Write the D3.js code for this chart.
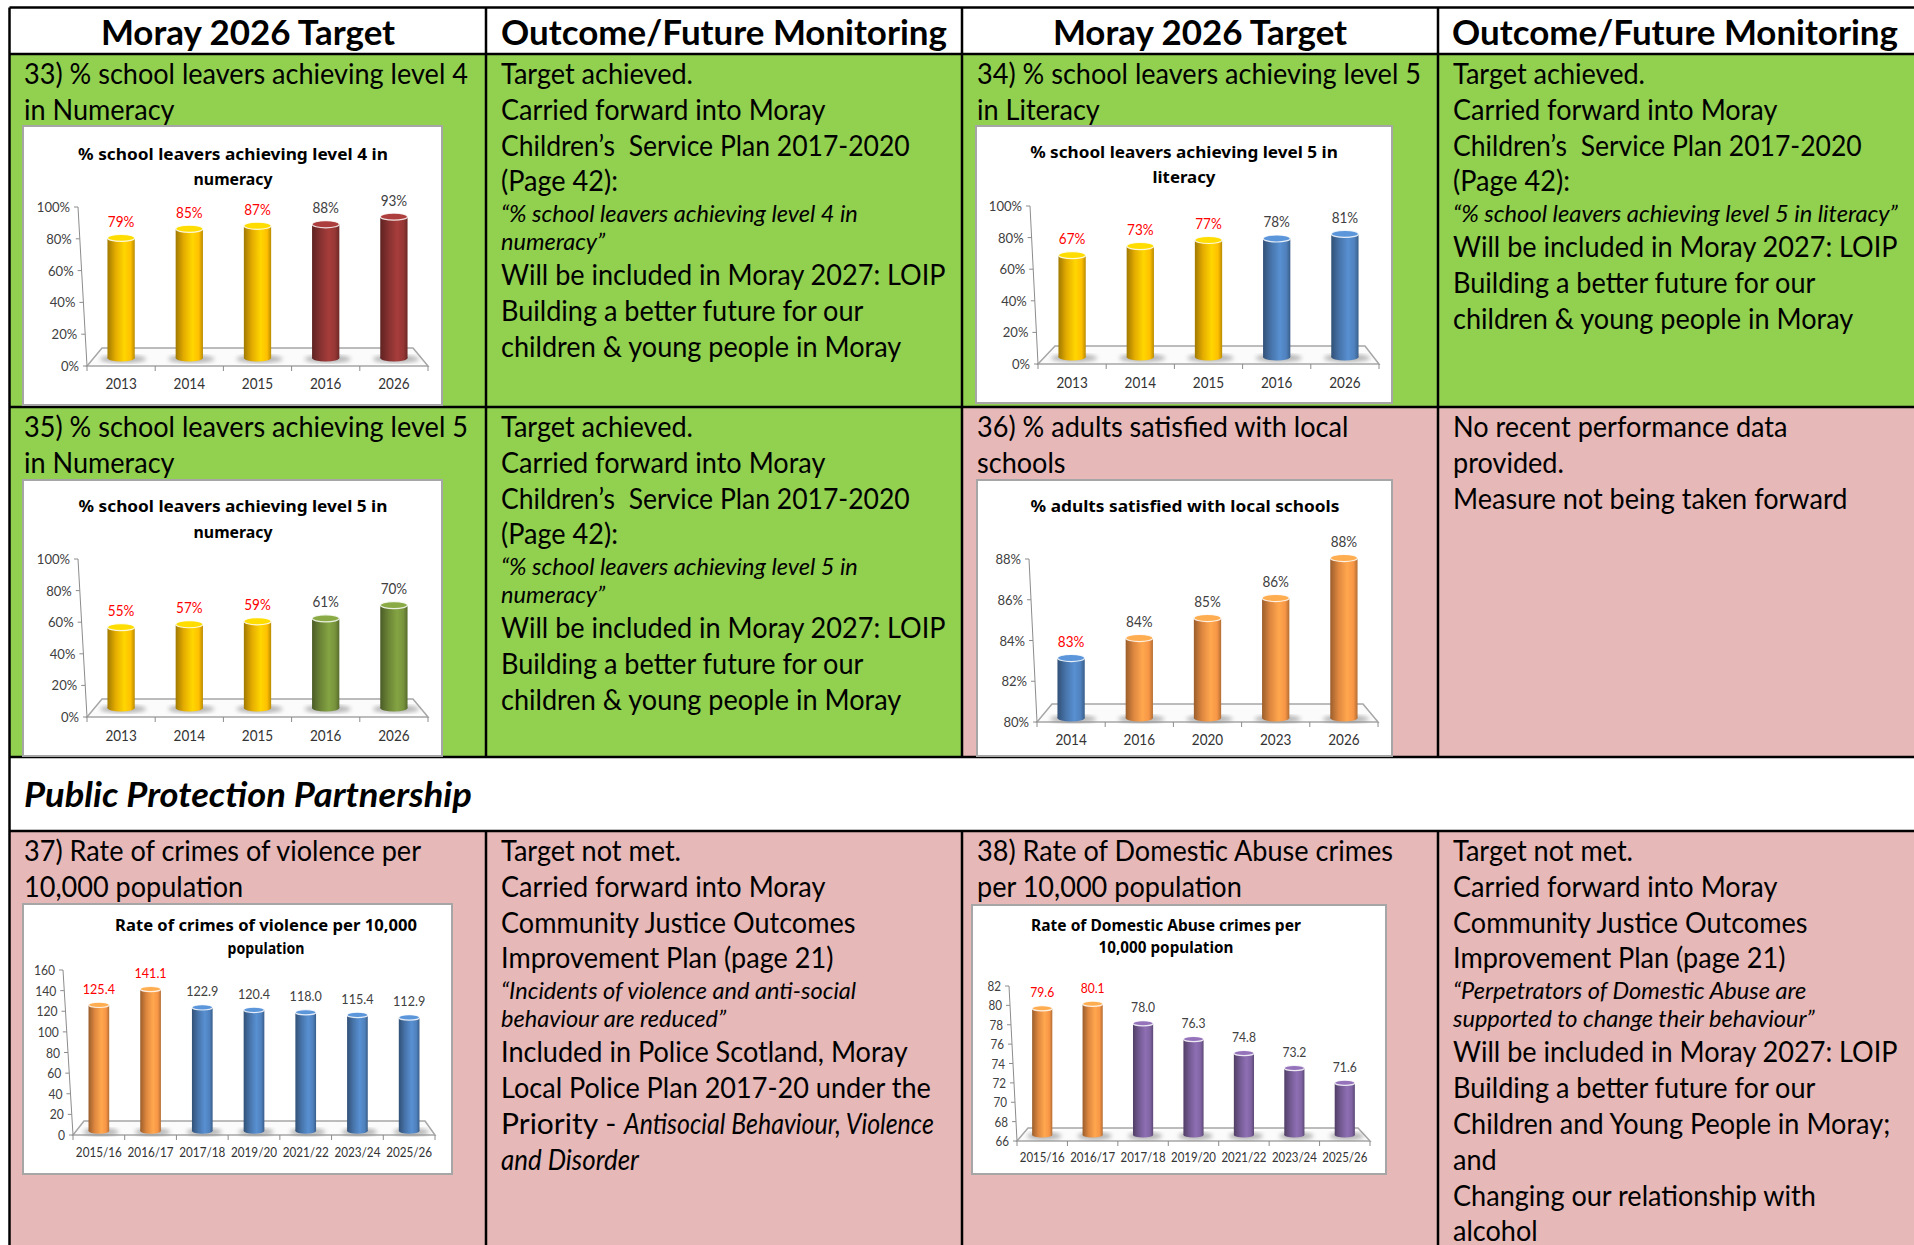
<!DOCTYPE html>
<html lang="en">
<head>
<meta charset="UTF-8">
<title>Moray 2026 Targets - Outcome / Future Monitoring</title>
<script src="https://cdn.jsdelivr.net/npm/d3@7"></script>
<style>
  body { margin: 0; background: #fff; }
  svg text { font-family: Lato, "Noto Sans", sans-serif; white-space: pre; }
</style>
</head>
<body>
<script>
// ---- data ----
var years5 = ["2013", "2014", "2015", "2016", "2026"];
var numeracyL4 = [79, 85, 87, 88, 93];
var literacyL5 = [67, 73, 77, 78, 81];
var numeracyL5 = [55, 57, 59, 61, 70];

var surveyYears = ["2014", "2016", "2020", "2023", "2026"];
var adultsSatisfied = [83, 84, 85, 86, 88];

var periods = ["2015/16", "2016/17", "2017/18", "2019/20", "2021/22", "2023/24", "2025/26"];
var violenceRate = [125.4, 141.1, 122.9, 120.4, 118.0, 115.4, 112.9];
var domesticAbuseRate = [79.6, 80.1, 78.0, 76.3, 74.8, 73.2, 71.6];

var pctTicks = [0, 20, 40, 60, 80, 100];
var adultsTicks = [80, 82, 84, 86, 88];
var violenceTicks = [0, 20, 40, 60, 80, 100, 120, 140, 160];
var abuseTicks = [66, 68, 70, 72, 74, 76, 78, 80, 82];

var W = 1914, H = 1245;
var GREEN = "#92D050", PINK = "#E6B8B7";

var svg = d3.select("body").append("svg").attr("width", W).attr("height", H);
var defs = svg.append("defs");
defs.append("filter").attr("id", "blur").append("feGaussianBlur").attr("stdDeviation", 2);

// text styles (Lato stands in for Calibri, squeezed to Calibri widths)
var styles = {
  r: {size: 29},
  i: {size: 24, italic: true},
  I: {size: 29, italic: true},
  h: {size: 34, bold: true},
  s: {size: 34, bold: true, italic: true}
};

function measure(str, st) {
  var t = svg.append("text")
    .attr("font-size", st.size)
    .attr("font-weight", st.bold ? "bold" : null)
    .attr("font-style", st.italic ? "italic" : null)
    .text(str);
  var w = t.node().getComputedTextLength();
  t.remove();
  return w;
}
var kReg = 444 / measure("33) % school leavers achieving level 4", styles.r);
var kIt = 357 / measure("\u201C% school leavers achieving level 4 in", styles.i);
var kB = 446 / measure("Outcome/Future Monitoring", styles.h);
var kBI = 448 / measure("Public Protection Partnership", styles.s);
styles.r.k = kReg; styles.i.k = kIt; styles.I.k = kIt; styles.h.k = kB; styles.s.k = kBI;

// squeeze horizontally with a transform so the text box stays true
function addText(parent, str, x, y, st, opt) {
  opt = opt || {};
  var t = parent.append("text")
    .attr("font-size", st.size)
    .attr("font-weight", st.bold ? "bold" : null)
    .attr("font-style", st.italic ? "italic" : null)
    .attr("text-anchor", opt.anchor || "start")
    .attr("fill", opt.fill || "#000")
    .text(str);
  if (opt.family) t.style("font-family", opt.family);
  var nat = t.node().getComputedTextLength();
  var w = opt.width || nat * (st.k || kReg);
  var sx = nat > 0 ? w / nat : 1;
  t.attr("transform", "translate(" + x + "," + y + ") scale(" + sx + ",1)");
  return w;
}

// ---- table ----
var colX = [9.5, 486, 962, 1438, 1916];
var rowY = {top: 7.5, head: 54, r1: 407, r2: 757, sec: 831, bottom: 1250};

var cellFill = [
  [rowY.head, rowY.r1, [GREEN, GREEN, GREEN, GREEN]],
  [rowY.r1, rowY.r2, [GREEN, GREEN, PINK, PINK]],
  [rowY.sec, rowY.bottom, [PINK, PINK, PINK, PINK]]
];
cellFill.forEach(function(r) {
  r[2].forEach(function(c, i) {
    svg.append("rect")
      .attr("x", colX[i]).attr("y", r[0])
      .attr("width", colX[i + 1] - colX[i]).attr("height", r[1] - r[0])
      .attr("fill", c);
  });
});

var grid = svg.append("g").attr("stroke", "#000").attr("stroke-width", 2.5);
[rowY.top, rowY.head, rowY.r1, rowY.r2, rowY.sec].forEach(function(y) {
  grid.append("line").attr("x1", colX[0]).attr("x2", W).attr("y1", y).attr("y2", y);
});
grid.append("line").attr("x1", colX[0]).attr("x2", colX[0]).attr("y1", rowY.top).attr("y2", H);
[1, 2, 3].forEach(function(i) {
  grid.append("line").attr("x1", colX[i]).attr("x2", colX[i]).attr("y1", rowY.top).attr("y2", rowY.r2);
  grid.append("line").attr("x1", colX[i]).attr("x2", colX[i]).attr("y1", rowY.sec).attr("y2", H);
});

// headers
var heads = ["Moray 2026 Target", "Outcome/Future Monitoring", "Moray 2026 Target", "Outcome/Future Monitoring"];
var headX = [248, 724, 1200, 1675];
heads.forEach(function(h, i) {
  addText(svg, h, headX[i], 45, styles.h, {anchor: "middle"});
});
addText(svg, "Public Protection Partnership", 24, 807, styles.s);

// cell text
function step(a, b) {
  if (a === "i" && b === "i") return 28.5;
  if (b === "i") return 30.5;
  if (a === "i") return 35;
  return 35.8;
}
function cellText(x, y, lines) {
  var yy = y, prev = null;
  lines.forEach(function(l, n) {
    var s = typeof l === "string" ? "r" : l.s;
    if (n > 0) yy += step(prev, s);
    if (typeof l === "string") addText(svg, l, x, yy, styles.r);
    else if (s === "m") {
      var xx = x;
      l.parts.forEach(function(p) {
        addText(svg, p[0], xx, yy, styles[p[1]], {width: p[2]});
        xx += p[2];
      });
    } else addText(svg, l.t, x, yy, styles[s], {width: l.w});
    prev = s;
  });
}

var plan = {s: "r", t: "Children\u2019s  Service Plan 2017-2020", w: 409};
var cX = [24, 501, 977, 1453];
cellText(cX[0], 84, ["33) % school leavers achieving level 4", "in Numeracy"]);
cellText(cX[1], 84, ["Target achieved.", "Carried forward into Moray", plan, "(Page 42):",
  {s: "i", t: "\u201C% school leavers achieving level 4 in"}, {s: "i", t: "numeracy\u201D"},
  "Will be included in Moray 2027: LOIP", "Building a better future for our", "children & young people in Moray"]);
cellText(cX[2], 84, ["34) % school leavers achieving level 5", "in Literacy"]);
cellText(cX[3], 84, ["Target achieved.", "Carried forward into Moray", plan, "(Page 42):",
  {s: "i", t: "\u201C% school leavers achieving level 5 in literacy\u201D", w: 445},
  "Will be included in Moray 2027: LOIP", "Building a better future for our", "children & young people in Moray"]);

cellText(cX[0], 437, ["35) % school leavers achieving level 5", "in Numeracy"]);
cellText(cX[1], 437, ["Target achieved.", "Carried forward into Moray", plan, "(Page 42):",
  {s: "i", t: "\u201C% school leavers achieving level 5 in"}, {s: "i", t: "numeracy\u201D"},
  "Will be included in Moray 2027: LOIP", "Building a better future for our", "children & young people in Moray"]);
cellText(cX[2], 437, ["36) % adults satisfied with local", "schools"]);
cellText(cX[3], 437, ["No recent performance data", "provided.", "Measure not being taken forward"]);

cellText(cX[0], 861, ["37) Rate of crimes of violence per", "10,000 population"]);
cellText(cX[1], 861, ["Target not met.", "Carried forward into Moray", "Community Justice Outcomes", "Improvement Plan (page 21)",
  {s: "i", t: "\u201CIncidents of violence and anti-social"}, {s: "i", t: "behaviour are reduced\u201D"},
  "Included in Police Scotland, Moray", "Local Police Plan 2017-20 under the",
  {s: "m", parts: [["Priority - ", "r", 123], ["Antisocial Behaviour, Violence", "I", 310]]},
  {s: "I", t: "and Disorder", w: 138}]);
cellText(cX[2], 861, ["38) Rate of Domestic Abuse crimes", "per 10,000 population"]);
cellText(cX[3], 861, ["Target not met.", "Carried forward into Moray", "Community Justice Outcomes", "Improvement Plan (page 21)",
  {s: "i", t: "\u201CPerpetrators of Domestic Abuse are"}, {s: "i", t: "supported to change their behaviour\u201D"},
  "Will be included in Moray 2027: LOIP", "Building a better future for our", "Children and Young People in Moray;",
  "and", "Changing our relationship with", "alcohol"]);

// ---- cylinder bar charts ----
function cylGrad(c) {
  var id = "cyl" + c.replace("#", "");
  if (!defs.select("#" + id).empty()) return id;
  var base = d3.color(c);
  var lg = defs.append("linearGradient").attr("id", id)
    .attr("x1", 0).attr("x2", 1).attr("y1", 0).attr("y2", 0);
  [[0, base.darker(1.3)], [0.3, base.darker(0.3)], [0.62, base.brighter(0.3)], [0.85, base], [1, base.darker(0.9)]]
    .forEach(function(s) {
      lg.append("stop").attr("offset", s[0]).attr("stop-color", s[1].formatHex());
    });
  return id;
}

function drawChart(cfg) {
  var g = svg.append("g");
  var b = cfg.box;
  g.append("rect")
    .attr("x", b[0]).attr("y", b[1]).attr("width", b[2] - b[0]).attr("height", b[3] - b[1])
    .attr("fill", "#fff").attr("stroke", "#a6a6a6").attr("stroke-width", 2);

  cfg.title.forEach(function(t) {
    addText(g, t.t, cfg.cx, t.y, {size: 16, bold: true}, {
      anchor: "middle", width: t.w, family: "'Comic Sans MS', 'Noto Sans', sans-serif"
    });
  });

  var x = d3.scaleBand().domain(cfg.cats).range([cfg.x0, cfg.x1]).paddingInner(0.6).paddingOuter(0.3);
  var yAxis = d3.scaleLinear().domain(cfg.domain).range([cfg.y0, cfg.y1]);
  var yBar = d3.scaleLinear().domain(cfg.domain).range([cfg.barBase, cfg.barTop]);

  // floor
  g.append("polygon")
    .attr("points", [[cfg.x0, cfg.y0], [cfg.x1, cfg.y0], [cfg.floorBR, cfg.floorBack], [cfg.floorBL, cfg.floorBack]].join(" "))
    .attr("fill", "#fbfbfb").attr("stroke", "#a6a6a6").attr("stroke-width", 1.5);

  // slanted value axis
  var ax = g.append("g").attr("stroke", "#8c8c8c");
  ax.append("line").attr("x1", cfg.x0).attr("y1", cfg.y0).attr("x2", cfg.xt).attr("y2", cfg.y1);
  cfg.ticks.forEach(function(v) {
    var yy = yAxis(v);
    var f = (cfg.y0 - yy) / (cfg.y0 - cfg.y1);
    var xx = cfg.x0 + (cfg.xt - cfg.x0) * f;
    ax.append("line").attr("x1", xx - 4).attr("x2", xx).attr("y1", yy).attr("y2", yy);
    addText(g, cfg.tickFmt(v), xx - 8, yy + 5, {size: cfg.fs - 0.5}, {anchor: "end", fill: "#404040"});
  });

  // category ticks and labels
  var stepW = x.step();
  d3.range(cfg.cats.length + 1).forEach(function(i) {
    var xx = cfg.x0 + stepW * i;
    ax.append("line").attr("x1", xx).attr("x2", xx).attr("y1", cfg.y0).attr("y2", cfg.y0 + 5);
  });
  cfg.cats.forEach(function(c) {
    addText(g, c, x(c) + x.bandwidth() / 2, cfg.catY, {size: cfg.fs}, {
      anchor: "middle", fill: "#333", width: cfg.catW
    });
  });

  // bars
  var bw = x.bandwidth(), ry = bw * 0.13;
  cfg.vals.forEach(function(v, i) {
    var c = cfg.cats[i];
    var cxm = x(c) + bw / 2;
    var col = i < cfg.nPast ? cfg.colors[0] : cfg.colors[1];
    var gid = cylGrad(col);
    var top = yBar(v);
    g.append("ellipse").attr("cx", cxm + 2).attr("cy", cfg.barBase + 1)
      .attr("rx", bw * 0.85).attr("ry", 4).attr("fill", "#888").attr("opacity", 0.6)
      .attr("filter", "url(#blur)");
    g.append("ellipse").attr("cx", cxm).attr("cy", cfg.barBase)
      .attr("rx", bw / 2).attr("ry", ry).attr("fill", "url(#" + gid + ")");
    g.append("rect").attr("x", cxm - bw / 2).attr("y", top)
      .attr("width", bw).attr("height", cfg.barBase - top).attr("fill", "url(#" + gid + ")");
    g.append("ellipse").attr("cx", cxm).attr("cy", top)
      .attr("rx", bw / 2).attr("ry", ry)
      .attr("fill", d3.color(col).brighter(0.4).formatHex())
      .attr("stroke", "#fff").attr("stroke-opacity", 0.85).attr("stroke-width", 1.2);
    addText(g, cfg.valFmt(v), cxm, top - 11, {size: cfg.fs}, {
      anchor: "middle", fill: i < cfg.nPast ? "#ff0000" : "#404040"
    });
  });
}

var pct = function(v) { return v + "%"; };
var one = d3.format(".1f");
var plain = function(v) { return String(v); };

var charts = [
  {box: [23, 126, 442, 405], cx: 233,
   title: [{t: "% school leavers achieving level 4 in", y: 160, w: 310}, {t: "numeracy", y: 185, w: 79}],
   cats: years5, vals: numeracyL4, domain: [0, 100], ticks: pctTicks, tickFmt: pct, valFmt: pct, fs: 14.5,
   x0: 87, x1: 428, y0: 366, y1: 207, xt: 78, floorBack: 348, floorBL: 102, floorBR: 413,
   barBase: 358, barTop: 206, catY: 389, nPast: 3, colors: ["#FFC000", "#953735"]},
  {box: [976, 126, 1392, 403], cx: 1184,
   title: [{t: "% school leavers achieving level 5 in", y: 158, w: 308}, {t: "literacy", y: 183, w: 63}],
   cats: years5, vals: literacyL5, domain: [0, 100], ticks: pctTicks, tickFmt: pct, valFmt: pct, fs: 14.5,
   x0: 1038, x1: 1379, y0: 364, y1: 206, xt: 1030, floorBack: 346, floorBL: 1055, floorBR: 1365,
   barBase: 357, barTop: 205, catY: 388, nPast: 3, colors: ["#FFC000", "#4F81BD"]},
  {box: [23, 480, 442, 756], cx: 233,
   title: [{t: "% school leavers achieving level 5 in", y: 512, w: 309}, {t: "numeracy", y: 538, w: 79}],
   cats: years5, vals: numeracyL5, domain: [0, 100], ticks: pctTicks, tickFmt: pct, valFmt: pct, fs: 14.5,
   x0: 87, x1: 428, y0: 717, y1: 559, xt: 78, floorBack: 699, floorBL: 102, floorBR: 413,
   barBase: 708, barTop: 561, catY: 741, nPast: 3, colors: ["#FFC000", "#77933C"]},
  {box: [977, 480, 1392, 756], cx: 1185,
   title: [{t: "% adults satisfied with local schools", y: 512, w: 309}],
   cats: surveyYears, vals: adultsSatisfied, domain: [80, 88], ticks: adultsTicks, tickFmt: pct, valFmt: pct, fs: 14.5,
   x0: 1037, x1: 1378, y0: 722, y1: 559, xt: 1029, floorBack: 704, floorBL: 1052, floorBR: 1363,
   barBase: 718, barTop: 558, catY: 745, nPast: 1, colors: ["#4F81BD", "#F79646"]},
  {box: [23, 904, 452, 1174], cx: 266,
   title: [{t: "Rate of crimes of violence per 10,000", y: 931, w: 302}, {t: "population", y: 954, w: 77}],
   cats: periods, vals: violenceRate, domain: [0, 160], ticks: violenceTicks, tickFmt: plain, valFmt: one, fs: 13.5, catW: 46,
   x0: 73, x1: 435, y0: 1135, y1: 970, xt: 63, floorBack: 1121, floorBL: 84, floorBR: 425,
   barBase: 1131, barTop: 970, catY: 1157, nPast: 2, colors: ["#F79646", "#4F81BD"]},
  {box: [972, 905, 1386, 1174], cx: 1166,
   title: [{t: "Rate of Domestic Abuse crimes per", y: 931, w: 270}, {t: "10,000 population", y: 953, w: 135}],
   cats: periods, vals: domesticAbuseRate, domain: [66, 82], ticks: abuseTicks, tickFmt: plain, valFmt: one, fs: 13, catW: 45,
   x0: 1017, x1: 1370, y0: 1141, y1: 986, xt: 1009, floorBack: 1128, floorBL: 1028, floorBR: 1358,
   barBase: 1135, barTop: 986, catY: 1162, nPast: 2, colors: ["#F79646", "#8064A2"]}
];
charts.forEach(drawChart);
</script>
</body>
</html>
